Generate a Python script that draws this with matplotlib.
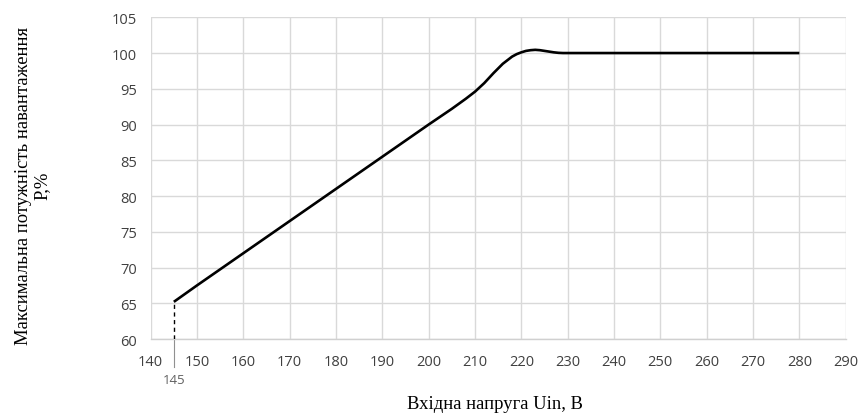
import matplotlib
matplotlib.use('Agg')
import matplotlib.pyplot as plt

# точки кривої
u_in = [145, 150, 160, 170, 180, 190, 200, 205, 208, 210, 212, 214, 216, 218, 219, 220,
        221, 222, 223, 224, 225, 226, 227, 228, 229, 230, 240, 250, 260, 270, 280]
p_max = [65.2, 67.5, 72.0, 76.5, 81.0, 85.5, 90.0, 92.2, 93.6, 94.6, 95.8, 97.2, 98.5, 99.5,
         99.85, 100.1, 100.3, 100.4, 100.45, 100.4, 100.3, 100.2, 100.1, 100.03, 100.0,
         100.0, 100.0, 100.0, 100.0, 100.0, 100.0]
x_ticks = list(range(140, 291, 10))
y_ticks = list(range(60, 106, 5))
u_start = 145

fig = plt.figure(figsize=(8.59, 4.14), dpi=100)
ax = fig.add_axes([0.1754, 0.1787, 0.8091, 0.7771])

ax.plot(u_in, p_max, color='black', lw=1.9, solid_capstyle='butt', zorder=3)
ax.plot([u_start, u_start], [60, p_max[0]], color='black', lw=1.0, ls=(0, (3, 2.5)), zorder=3)
# тонка сіра лінія під віссю до підпису 145
ax.plot([u_start, u_start], [60, 56.1], color='#909090', lw=0.8, clip_on=False)
ax.text(u_start, 54.3, '145', ha='center', va='center', fontsize=9.5,
        color='#606060', family='Open Sans')

ax.set_xlim(140, 290)
ax.set_ylim(60, 105)
ax.set_xticks(x_ticks)
ax.set_yticks(y_ticks)
ax.grid(True, color='#d9d9d9', lw=1.0)
ax.set_axisbelow(True)
for s in ['top', 'right', 'left']:
    ax.spines[s].set_visible(False)
ax.spines['bottom'].set_color('#d0d0d0')
ax.spines['bottom'].set_linewidth(1.0)
ax.tick_params(length=0, labelsize=10.5, labelcolor='#404040')
ax.tick_params(axis='x', pad=11)
ax.tick_params(axis='y', pad=10)
for lab in ax.get_xticklabels() + ax.get_yticklabels():
    lab.set_family('Open Sans')

fig.text(0.576, 0.022, 'Вхідна напруга Uin, В', ha='center', va='center',
         fontsize=13.4, family='Liberation Serif')
fig.text(0.038, 0.551, 'Максимальна потужність навантаження\nP,%', ha='center', va='center',
         rotation=90, fontsize=13.4, family='Liberation Serif', linespacing=1.15)

fig.savefig('out.png', dpi=100)
